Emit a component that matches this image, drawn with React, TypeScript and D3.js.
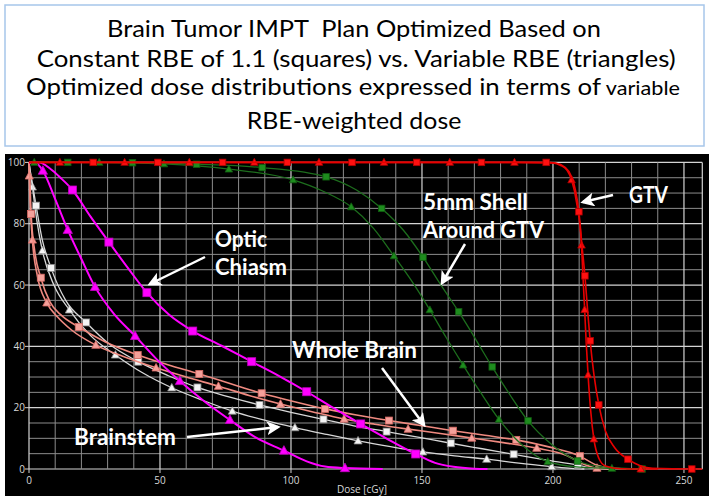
import React from 'react';
import * as d3 from 'd3';

type P = [number, number];

const doseTicks = [0, 50, 100, 150, 200, 250];
const volumeTicks = [0, 20, 40, 60, 80, 100];
const doseGrid = d3.range(0, 251, 10);
const volumeGrid = d3.range(0, 101, 5);
const xAxisLabel = 'Dose [cGy]';

const titleLine1 = 'Brain Tumor IMPT  Plan Optimized Based on';
const titleLine2 = 'Constant RBE of 1.1 (squares) vs. Variable RBE (triangles)';
const titleLine3 = 'Optimized dose distributions expressed in terms of';
const titleLine3b = 'variable';
const titleLine4 = 'RBE-weighted dose';

// GTV
const gtvConstMarkers: P[] = [[24.5,100],[49.2,100],[73.9,100],[98.6,100],[123.3,100],[148,100],[172.7,100],[197.4,100],[209.9,83.9],[212.2,63],[214.2,41.8],[217.5,20.9],[228.6,3.2],[253,0]];
const gtvConstExtra: P[] = [[0,100],[201,99.8],[204.5,98.5],[207,95.5],[208.7,90.5],[211,73.5],[213.2,52],[215.6,31],[220,12.5],[223.5,7],[238,0.2],[257,0]];
const gtvVarMarkers: P[] = [[11.8,100],[36.5,100],[61.2,100],[86,100],[110.7,100],[135.5,100],[160.6,100],[185.3,100],[207.1,94.3],[210.9,73],[212.1,52],[213.4,30.7],[215.6,9.8],[233.5,0]];
const gtvVarExtra: P[] = [[0,100],[200,99.8],[203,99],[205.3,97.5],[209,87],[211.5,62],[212.7,41],[214.4,19],[217.5,3.5],[220,1],[226,0.1],[240,0]];

// 5mm shell
const shellConstMarkers: P[] = [[14.8,100],[39.5,99.9],[64,99.4],[89,98.3],[113.4,95.3],[134.6,85],[150.4,69.1],[164,51.3],[176.8,33.3],[190.5,15.7],[209.4,2.6],[234,0]];
const shellConstExtra: P[] = [[0,100],[125,91],[143,77.8],[157,60.3],[170.5,42.3],[183.5,24.3],[199.5,8],[220,0.6]];
const shellVarMarkers: P[] = [[2,100],[26.8,100],[51.5,99.5],[76.3,97.8],[100.8,94.3],[123,85.5],[139.3,69.5],[153,51.9],[165.7,33.9],[179.4,16.2],[198,2.4],[222.5,0.2]];
const shellVarExtra: P[] = [[0,100],[112.5,90.5],[131.5,78.5],[146.3,61],[159.3,42.8],[172.5,24.8],[188,8],[210,0.6],[230,0]];

// Optic chiasm
const chiasmConstMarkers: P[] = [[16.6,91],[30.5,74],[45,57.5],[62.5,45],[85,35],[106,25.2],[126.6,14.7],[147.6,4.9]];
const chiasmConstExtra: P[] = [[0,100],[4,100],[8,98],[12,95],[23.5,82.3],[37.8,65.5],[53.5,50.3],[73.5,40.2],[95.5,30.3],[116,20],[137,9.7],[155,2],[162,0.7],[170,0.1],[175,0]];
const chiasmVarMarkers: P[] = [[5.3,97.3],[14.8,78],[25.2,59.4],[40.5,43.4],[57.6,28.7],[76.7,16],[97.3,6],[120.6,0.3]];
const chiasmVarExtra: P[] = [[0,100],[2.5,99.8],[10,88],[20,68.5],[32.5,50.5],[48.5,36],[67,22],[86.5,10.3],[106,2.5],[113,0.8],[135,0]];

// Whole brain
const brainConstMarkers: P[] = [[0.8,83.2],[4.5,62.4],[19,46.3],[41.5,37.2],[65,31],[88.8,24.7],[113,19.6],[137.4,15.8],[161.8,12.5],[186,9.5],[210.3,4.2]];
const brainConstExtra: P[] = [[0,100],[0.3,95],[2.2,71],[8,54.5],[12.5,50],[29,41.5],[53,34],[77,27.8],[101,22],[125,17.6],[150,14.1],[174,11],[198,7.3],[216,1.5],[222,0.3],[228,0]];
const brainVarMarkers: P[] = [[0.1,95.6],[1.3,74.7],[6.8,54.2],[25.5,40.4],[48.5,33],[72.3,27],[96,21.2],[120.3,16.3],[144.7,13],[169,10.1],[193.8,6.8],[216.8,0.3]];
const brainVarExtra: P[] = [[0,100],[3.2,63],[11,49.5],[16,45.5],[36,36.7],[60,30],[84,24],[108,18.7],[132,14.6],[157,11.6],[181,8.6],[205,4.5],[212,1.5],[222,0]];

// Brainstem
const stemConstMarkers: P[] = [[2.7,85.9],[8.4,65.6],[21.8,47.8],[41.7,35],[64.3,26.6],[88,20.9],[112.4,16.2],[136.5,12.2],[161,8.4],[185,4.8],[209.5,1.3]];
const stemConstExtra: P[] = [[0,100],[0.5,97],[1.5,92],[5,75],[14,55],[31,40.5],[53,30.5],[76,23.6],[100,18.5],[124,14.1],[149,10.3],[173,6.6],[197,3],[215,0.3],[222,0]];
const stemVarMarkers: P[] = [[1.3,92],[5.1,71.2],[15.4,51.9],[33,37.2],[54.5,26.5],[77.6,18.9],[101.5,13.5],[125.6,9.2],[150.3,5.6],[174.7,3.2],[199.5,0.8]];
const stemVarExtra: P[] = [[0,100],[0.5,97],[3,81],[9.5,60],[23.5,43.5],[43.5,31.3],[66,22.5],[89.5,16],[113.5,11.3],[138,7.3],[162.5,4.3],[187,1.9],[207,0.2],[212,0]];

const seriesDefs = [
  { id: 'stemV', markers: stemVarMarkers, extra: stemVarExtra, shape: 'tri', line: '#d8d8d8', lw: 1.3, fill: '#f4f4f4', stroke: '#8a8a8a', size: 7 },
  { id: 'stemC', markers: stemConstMarkers, extra: stemConstExtra, shape: 'sq', line: '#d8d8d8', lw: 1.3, fill: '#f4f4f4', stroke: '#8a8a8a', size: 7 },
  { id: 'brainV', markers: brainVarMarkers, extra: brainVarExtra, shape: 'tri', line: '#f08a80', lw: 1.6, fill: '#f4a09a', stroke: '#d86a64', size: 7 },
  { id: 'brainC', markers: brainConstMarkers, extra: brainConstExtra, shape: 'sq', line: '#f08a80', lw: 1.6, fill: '#f4a09a', stroke: '#d86a64', size: 7 },
  { id: 'chiasmV', markers: chiasmVarMarkers, extra: chiasmVarExtra, shape: 'tri', line: '#ff00ff', lw: 2, fill: '#ff00ff', stroke: '#c000c0', size: 8 },
  { id: 'chiasmC', markers: chiasmConstMarkers, extra: chiasmConstExtra, shape: 'sq', line: '#ff00ff', lw: 2, fill: '#ff00ff', stroke: '#c000c0', size: 8 },
  { id: 'shellV', markers: shellVarMarkers, extra: shellVarExtra, shape: 'tri', line: '#1d6e1d', lw: 1.3, fill: '#1e8c1e', stroke: '#0f5a0f', size: 6.5 },
  { id: 'shellC', markers: shellConstMarkers, extra: shellConstExtra, shape: 'sq', line: '#1d6e1d', lw: 1.3, fill: '#1e8c1e', stroke: '#0f5a0f', size: 6.5 },
  { id: 'gtvV', markers: gtvVarMarkers, extra: gtvVarExtra, shape: 'tri', line: '#e80000', lw: 1.6, fill: '#ff1010', stroke: '#b00000', size: 6.5 },
  { id: 'gtvC', markers: gtvConstMarkers, extra: gtvConstExtra, shape: 'sq', line: '#e80000', lw: 1.6, fill: '#ff1010', stroke: '#b00000', size: 6.5 },
];

const labelFont = 'Lato, "Open Sans", sans-serif';

export default function App() {
  const x = d3.scaleLinear().domain([0, 257]).range([29, 702.3]);
  const y = d3.scaleLinear().domain([0, 100]).range([469, 162.4]);
  const lineGen = d3.line<P>().x(d => x(d[0])).y(d => y(d[1])).curve(d3.curveMonotoneX);

  const tri = (cx: number, cy: number, s: number) =>
    `M${cx},${cy - s * 0.62}L${cx + s * 0.58},${cy + s * 0.45}L${cx - s * 0.58},${cy + s * 0.45}Z`;

  return (
    <svg width={714} height={500} style={{ position: 'absolute', left: 0, top: 0, background: '#fff' }}>
      <defs>
        <marker id="ah" viewBox="0 0 10 10" refX="8" refY="5" markerWidth="14" markerHeight="14" markerUnits="userSpaceOnUse" orient="auto">
          <path d="M0,0 L10,5 L0,10 L2.5,5 Z" fill="#fff" />
        </marker>
      </defs>
      {/* Title box */}
      <rect x={5} y={5} width={699} height={141} fill="#fff" stroke="#a7c6ea" strokeWidth={1.5} />
      <g fontFamily={labelFont} fill="#000">
        <text x={107} y={37.3} fontSize={24} textLength={494} lengthAdjust="spacingAndGlyphs" style={{ whiteSpace: 'pre' }}>{titleLine1}</text>
        <text x={36.7} y={66.7} fontSize={24} textLength={639} lengthAdjust="spacingAndGlyphs">{titleLine2}</text>
        <text x={26} y={95} fontSize={24} textLength={575} lengthAdjust="spacingAndGlyphs">{titleLine3}</text>
        <text x={605.7} y={95} fontSize={19} textLength={74.3} lengthAdjust="spacingAndGlyphs">{titleLine3b}</text>
        <text x={246.7} y={128.5} fontSize={24} textLength={214.6} lengthAdjust="spacingAndGlyphs">{titleLine4}</text>
      </g>

      {/* Chart background */}
      <rect x={5} y={154} width={704} height={342} fill="#000" />

      {/* Grid */}
      <g>
        {volumeGrid.map(v => (
          <line key={'h' + v} x1={x(0)} x2={x(257)} y1={y(v)} y2={y(v)}
            stroke={v % 20 === 0 ? '#d4d4d4' : '#8c8c8c'} strokeWidth={v % 20 === 0 ? 1.2 : 1} />
        ))}
        {doseGrid.map(d => (
          <line key={'v' + d} x1={x(d)} x2={x(d)} y1={y(0)} y2={y(100)}
            stroke={d % 50 === 0 ? '#d4d4d4' : '#8c8c8c'} strokeWidth={d % 50 === 0 ? 1.2 : 1} />
        ))}
        <line x1={x(257)} x2={x(257)} y1={y(0)} y2={y(100)} stroke="#d4d4d4" strokeWidth={1.2} />
        {volumeTicks.map(v => (
          <line key={'yt' + v} x1={x(0) - 4} x2={x(0)} y1={y(v)} y2={y(v)} stroke="#d4d4d4" />
        ))}
        {doseTicks.map(d => (
          <line key={'xt' + d} x1={x(d)} x2={x(d)} y1={y(0)} y2={y(0) + 4} stroke="#d4d4d4" />
        ))}
      </g>

      {/* Tick labels */}
      <g fontFamily='"Open Sans", sans-serif' fontSize={10} fill="#d8d8d8">
        {volumeTicks.map(v => (
          <text key={'yl' + v} x={25} y={y(v)} dy="0.35em" textAnchor="end">{v}</text>
        ))}
        {doseTicks.map(d => (
          <text key={'xl' + d} x={x(d)} y={480} dy="0.35em" textAnchor="middle">{d}</text>
        ))}
        <text x={362} y={489.5} dy="0.35em" textAnchor="middle">{xAxisLabel}</text>
      </g>

      {/* Series */}
      {seriesDefs.map(s => {
        const pts = [...s.markers, ...s.extra].sort((a, b) => a[0] - b[0]);
        return (
          <g key={s.id}>
            <path d={lineGen(pts) || ''} fill="none" stroke={s.line} strokeWidth={s.lw} />
            {s.markers.map((m, i) => {
              const cx = x(m[0]), cy = y(m[1]);
              return s.shape === 'sq' ? (
                <rect key={i} x={cx - s.size / 2} y={cy - s.size / 2} width={s.size} height={s.size}
                  fill={s.fill} stroke={s.stroke} strokeWidth={0.8} />
              ) : (
                <path key={i} d={tri(cx, cy, s.size)} fill={s.fill} stroke={s.stroke} strokeWidth={0.8} />
              );
            })}
          </g>
        );
      })}

      {/* Annotations */}
      <g stroke="#fff" strokeWidth={2.5} markerEnd="url(#ah)">
        <line x1={205} y1={257} x2={150} y2={284} />
        <line x1={465} y1={244} x2={442} y2={283} />
        <line x1={613} y1={195} x2={583} y2={202} />
        <line x1={382} y1={368} x2={424} y2={425} />
        <line x1={187} y1={437} x2={278} y2={427} />
      </g>
      <g fontFamily={labelFont} fontWeight="bold" fontSize={22} fill="#fff">
        <text x={215} y={247} textLength={52} lengthAdjust="spacingAndGlyphs">Optic</text>
        <text x={215} y={275} textLength={72} lengthAdjust="spacingAndGlyphs">Chiasm</text>
        <text x={423} y={210} textLength={105} lengthAdjust="spacingAndGlyphs">5mm Shell</text>
        <text x={423} y={238} textLength={121} lengthAdjust="spacingAndGlyphs">Around GTV</text>
        <text x={629} y={203} textLength={39} lengthAdjust="spacingAndGlyphs">GTV</text>
        <text x={292} y={358} textLength={125} lengthAdjust="spacingAndGlyphs">Whole Brain</text>
        <text x={74} y={445} textLength={102} lengthAdjust="spacingAndGlyphs">Brainstem</text>
      </g>
    </svg>
  );
}
